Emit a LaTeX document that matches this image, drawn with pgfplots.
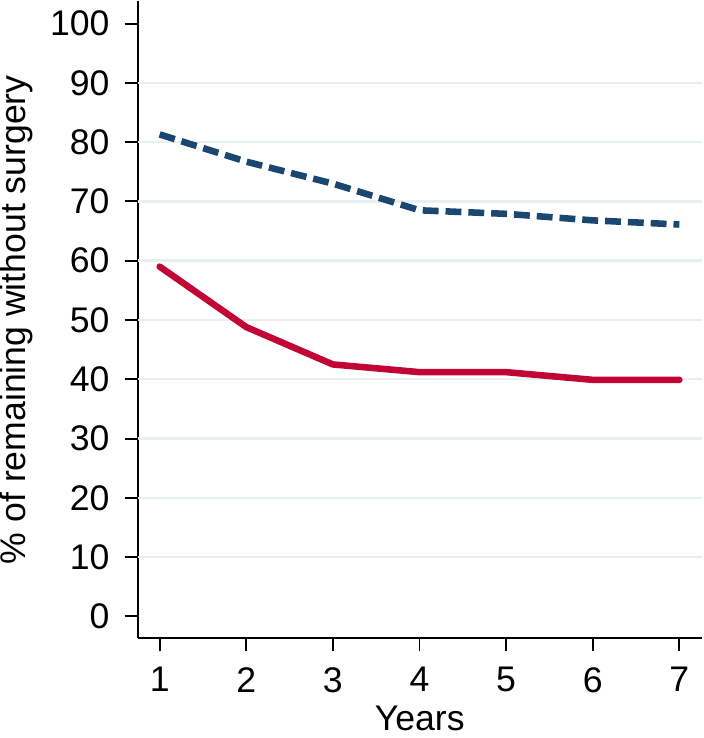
\documentclass[border=0pt]{standalone}
\usepackage{fontspec}
\setmainfont{Liberation Sans}
\usepackage{pgfplots}
\pgfplotsset{compat=1.18}
\definecolor{navy}{HTML}{1A476F}
\definecolor{cranb}{HTML}{C10534}
\definecolor{gridc}{HTML}{E8EFF1}
\begin{document}
\fontsize{18}{21.6}\selectfont
\begin{tikzpicture}
\begin{axis}[
  scale only axis,
  width=284.2bp, height=321bp,
  xmin=0.745, xmax=7.26,
  ymin=-3.7, ymax=103.8,
  axis x line*=bottom, axis y line*=left,
  axis line style={line width=1bp, -},
  xtick={1,...,7}, ytick={0,10,...,100},
  tick align=outside, major tick length=6.5bp,
  tick style={line width=1bp, black},
  extra y ticks={10,20,...,90},
  extra y tick style={grid=major, major tick length=0pt, yticklabels={}},
  grid style={gridc, line width=1.2bp},
  /pgf/number format/assume math mode=true,
  ticklabel style={font=\fontsize{18}{21.6}\selectfont},
  yticklabel style={xshift=-1.5bp, inner ysep=0pt},
  xticklabel style={yshift=-2bp},
  xlabel={Years}, ylabel={\% of remaining without surgery},
  label style={font=\fontsize{18}{21.6}\selectfont},
  xlabel style={inner sep=0pt, outer sep=0pt, text depth=4bp, yshift=-0.5bp},
  ylabel style={inner sep=0pt, outer sep=0pt, yshift=-4bp},
  clip=false,
]
\addplot[navy, line width=3.3bp, dash pattern=on 8bp off 3.5bp, line cap=butt] coordinates {
(1,81.3) (2,76.7) (3,73.0) (4,68.5) (5,67.9) (6,66.8) (7,66.1)};
\addplot[cranb, line width=3.3bp, line cap=round, line join=round] coordinates {
(1,59.0) (2,48.8) (3,42.5) (4,41.2) (5,41.2) (6,39.9) (7,39.9)};
\end{axis}
\end{tikzpicture}
\end{document}
